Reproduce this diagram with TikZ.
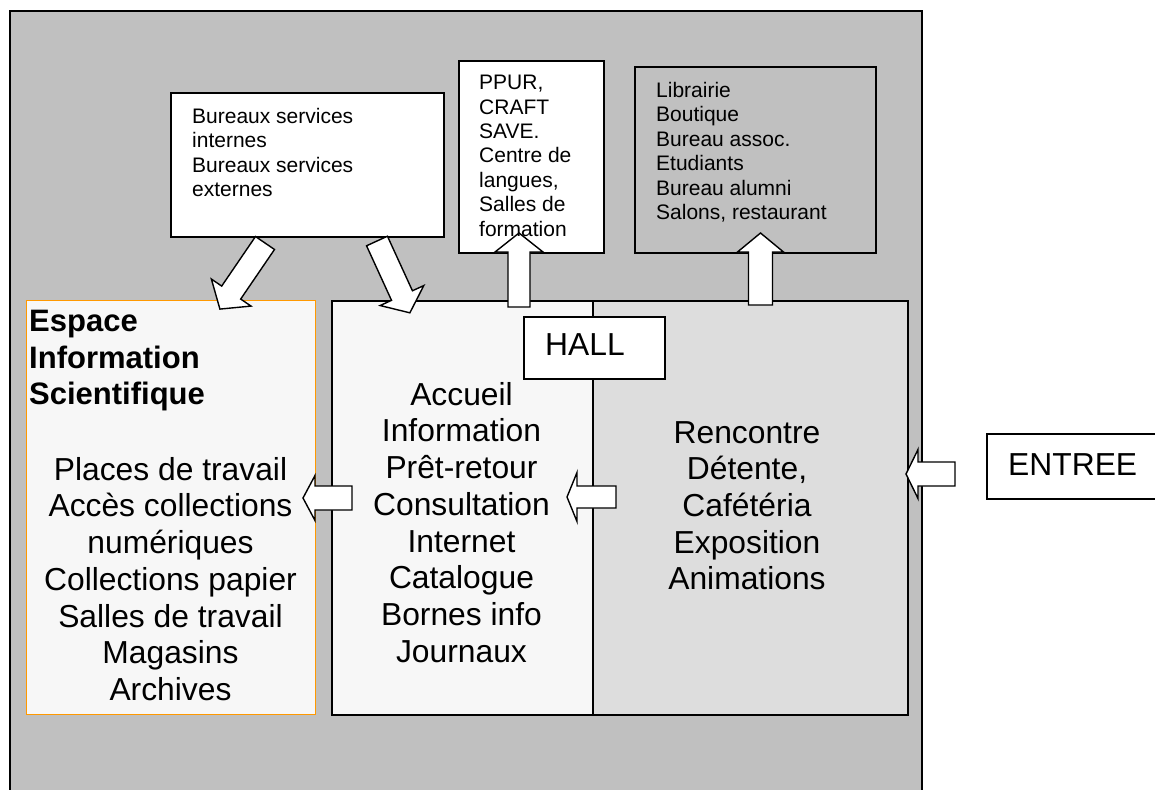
\documentclass[tikz,border=0pt]{standalone}
\usepackage{fontspec}
\setmainfont{Liberation Sans}
\definecolor{bggray}{HTML}{C0C0C0}
\definecolor{paleA}{HTML}{F7F7F7}
\definecolor{paleB}{HTML}{DDDDDD}
\definecolor{orangeB}{HTML}{FF9900}
\newcommand\fsm{\fontsize{21}{24.4}\selectfont}
\newcommand\fbig{\fontsize{31.8}{36.7}\selectfont}
\newcommand\fhead{\bfseries\fontsize{31}{36.5}\selectfont}
\newcommand\blockarr[7]{%
  \begin{scope}[shift={(#1,#2)},rotate=#3]
    \draw[barrow] (0,-#5) -- (#4-#7,-#5) -- (#4-#7,-#6) -- (#4,0) -- (#4-#7,#6) -- (#4-#7,#5) -- (0,#5) -- cycle;
  \end{scope}}
\begin{document}
\begin{tikzpicture}[x=1pt,y=-1pt,
  box/.style={draw, line width=1.6pt, inner sep=0pt, anchor=north west},
  barrow/.style={draw, fill=white, line width=1.4pt, line join=miter},
  txt/.style={inner sep=0pt, text=black}]
\useasboundingbox (0,0) rectangle (1155,789);
% outer area
\draw[fill=bggray, line width=2pt] (10,820) -- (10,11) -- (922,11) -- (922,820);
% upper boxes
\node[box, fill=white, minimum width=273pt, minimum height=144pt] (bureaux) at (170,92) {};
\node[box, fill=white, minimum width=145pt, minimum height=192pt] (ppur) at (458,60) {};
\node[box, fill=bggray, minimum width=241pt, minimum height=186pt] (libr) at (634,66) {};
% lower areas
\node[box, draw=orangeB, line width=1.2pt, fill=paleA, minimum width=289pt, minimum height=414pt] (esi) at (26,300) {};
\node[box, fill=paleA, minimum width=261pt, minimum height=414pt] (hallL) at (331,300) {};
\node[box, fill=paleB, minimum width=315pt, minimum height=414pt] (hallR) at (592,300) {};
\node[box, fill=white, minimum width=184pt, minimum height=65pt] (entree) at (986,433) {};
% block arrows
\blockarr{265}{243}{-124.3}{80}{11.5}{24}{20}
\blockarr{377}{241}{-65.4}{79}{11.5}{24}{19}
\blockarr{519}{307}{90}{74}{11}{24}{19}
\blockarr{760.5}{305}{90}{72}{12}{23}{19}
\blockarr{352}{498}{180}{49}{12}{22.5}{12}
\blockarr{616}{497}{180}{49}{11}{24.5}{10}
\blockarr{955}{474}{180}{49}{12}{24.5}{12}
% HALL label
\node[box, fill=white, minimum width=141pt, minimum height=62pt] (hall) at (523,316) {};
% texts
\node[txt, anchor=north west, align=left, font=\fsm] (tbur) at (192,108) {Bureaux services\\internes\\Bureaux services\\externes};
\node[txt, anchor=north west, align=left, font=\fsm] (tppur) at (479,75) {PPUR,\\CRAFT\\SAVE.\\Centre de\\langues,\\Salles de\\formation};
\node[txt, anchor=north west, align=left, font=\fsm] (tlib) at (656,82) {Librairie\\Boutique\\Bureau assoc.\\Etudiants\\Bureau alumni\\Salons, restaurant};
\node[txt, anchor=north west, align=left, font=\fhead] (tesi) at (29,310) {Espace\\Information\\Scientifique};
\node[txt, anchor=north, align=center, font=\fbig] (tesil) at (170.5,457) {Places de travail\\Accès collections\\numériques\\Collections papier\\Salles de travail\\Magasins\\Archives};
\node[txt, anchor=north, align=center, font=\fbig] (tmid) at (461.5,382) {Accueil\\Information\\Prêt-retour\\Consultation\\Internet\\Catalogue\\Bornes info\\Journaux};
\node[txt, anchor=north, align=center, font=\fbig] (tright) at (747,421) {Rencontre\\Détente,\\Cafétéria\\Exposition\\Animations};
\node[txt, anchor=north west, font=\fbig] (thall) at (545,333) {HALL};
\node[txt, anchor=north west, font=\fbig] (tent) at (1008,453) {ENTREE};
\end{tikzpicture}
\end{document}
